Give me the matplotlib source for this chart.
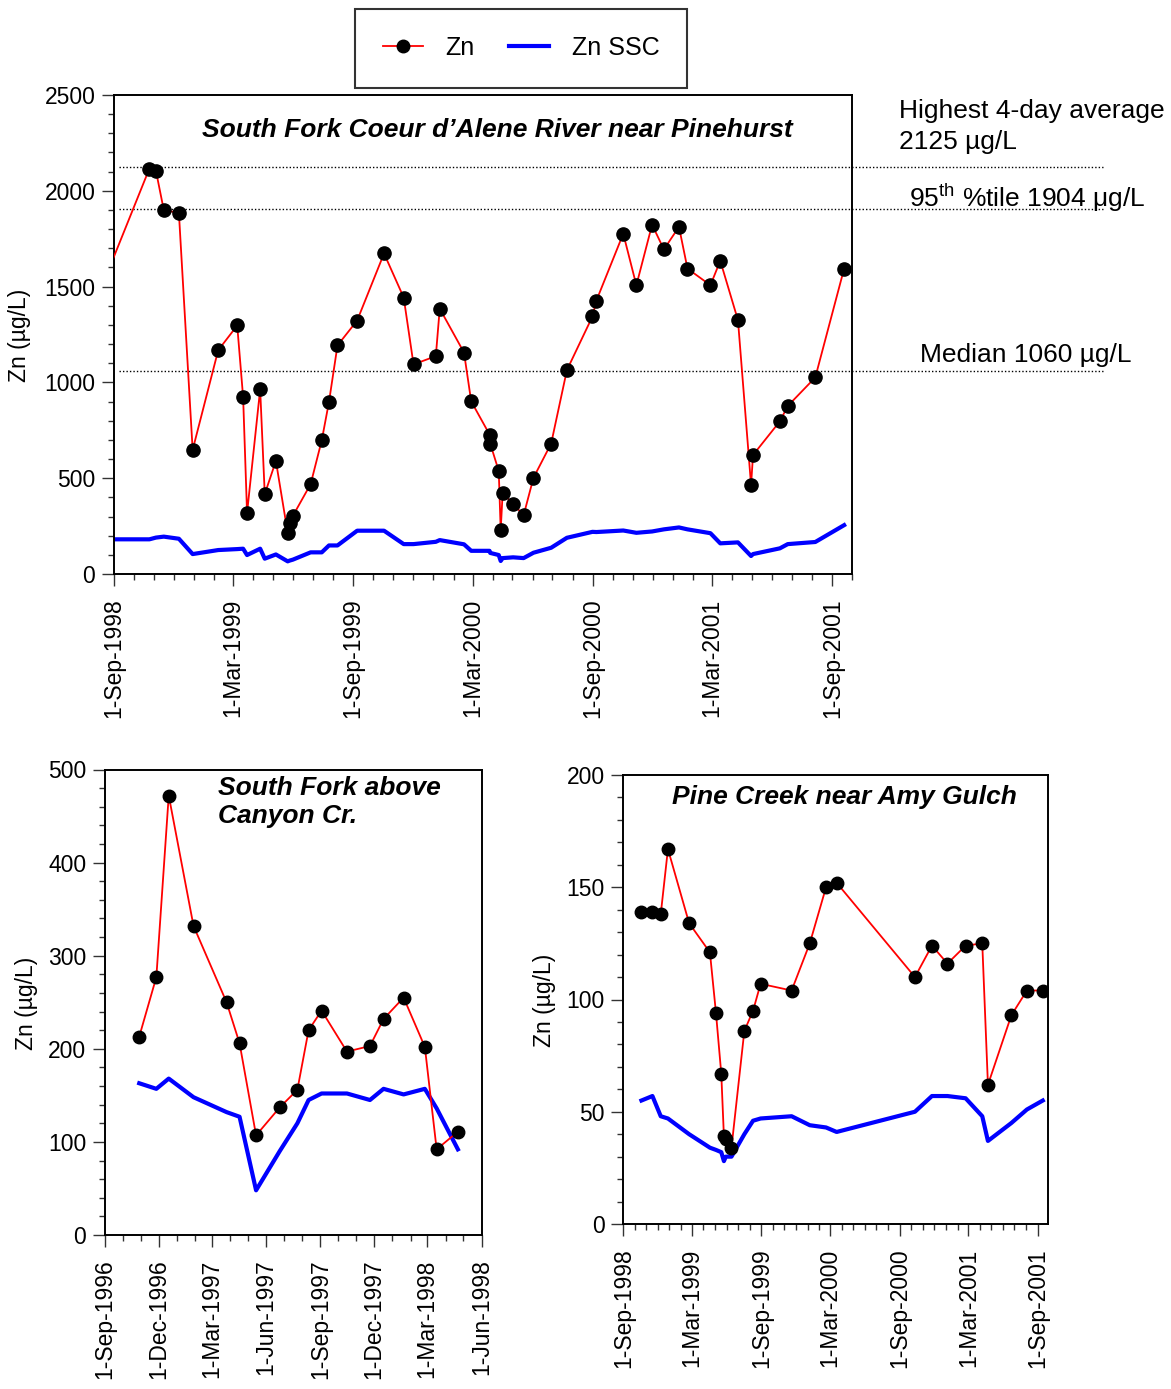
import numpy as np
import matplotlib.pyplot as plt
import matplotlib.dates as mdates
from matplotlib.ticker import MultipleLocator, FuncFormatter
from matplotlib.lines import Line2D

plt.rcParams['font.family'] = ['Liberation Sans', 'DejaVu Sans']
plt.rcParams['mathtext.fontset'] = 'custom'
plt.rcParams['mathtext.rm'] = 'Liberation Sans'

# South Fork Coeur d'Alene River near Pinehurst (first point lies left of the axis)
pine_dates = ['1998-08-10', '1998-10-25', '1998-11-04', '1998-11-16', '1998-12-09', '1998-12-30',
              '1999-02-07', '1999-03-08', '1999-03-17', '1999-03-23', '1999-04-12', '1999-04-19',
              '1999-05-06', '1999-05-24', '1999-05-27', '1999-06-01', '1999-06-28', '1999-07-15',
              '1999-07-26', '1999-08-08', '1999-09-07', '1999-10-18', '1999-11-17', '1999-12-02',
              '2000-01-05', '2000-01-11', '2000-02-17', '2000-02-28', '2000-03-27', '2000-03-28',
              '2000-04-10', '2000-04-13', '2000-04-16', '2000-05-02', '2000-05-18', '2000-06-02',
              '2000-06-29', '2000-07-23', '2000-08-31', '2000-09-06', '2000-10-17', '2000-11-06',
              '2000-11-30', '2000-12-18', '2001-01-10', '2001-01-23', '2001-02-27', '2001-03-14',
              '2001-04-10', '2001-04-30', '2001-05-03', '2001-06-13', '2001-06-25', '2001-08-06',
              '2001-09-19']
pine_zn = [1470, 2116, 2104, 1899, 1885, 648,
           1168, 1297, 923, 318, 964, 417,
           590, 215, 264, 304, 469, 698,
           898, 1193, 1323, 1673, 1443, 1094,
           1137, 1385, 1156, 901, 728, 681,
           538, 229, 424, 365, 307, 502,
           681, 1064, 1344, 1427, 1776, 1507,
           1823, 1694, 1812, 1594, 1507, 1635,
           1325, 464, 621, 797, 877, 1026,
           1594]
pine_ssc = [181, 181, 190, 195, 184, 104,
            125, 130, 132, 99, 132, 80,
            102, 66, 70, 75, 113, 113,
            149, 149, 226, 226, 156, 156,
            168, 177, 155, 121, 121, 110,
            99, 68, 83, 87, 83, 111,
            137, 189, 220, 219, 227, 215,
            222, 233, 243, 233, 213, 160,
            165, 94, 104, 134, 156, 167,
            255]

ref_values = [2125, 1904, 1060]

# South Fork above Canyon Cr.
canyon_dates = ['1996-10-29', '1996-11-27', '1996-12-18', '1997-01-29', '1997-03-26', '1997-04-17',
                '1997-05-15', '1997-06-24', '1997-07-24', '1997-08-12', '1997-09-03', '1997-10-16',
                '1997-11-24', '1997-12-17', '1998-01-20', '1998-02-25', '1998-03-17', '1998-04-22']
canyon_zn = [213, 277, 472, 332, 250, 206, 107, 137, 156, 220, 241, 197, 203, 232, 255, 202, 92, 111]
canyon_ssc = [163, 157, 168, 148, 132, 127, 48, 90, 120, 145, 152, 152, 145, 157, 151, 157, 136, 92]

# Pine Creek near Amy Gulch
amy_dates = ['1998-10-19', '1998-11-17', '1998-12-09', '1998-12-28', '1999-02-22', '1999-04-18',
             '1999-05-04', '1999-05-18', '1999-05-25', '1999-05-30', '1999-06-14', '1999-07-18',
             '1999-08-10', '1999-08-30', '1999-11-20', '2000-01-07', '2000-02-19', '2000-03-18',
             '2000-10-11', '2000-11-25', '2001-01-05', '2001-02-22', '2001-04-07', '2001-04-22',
             '2001-06-23', '2001-08-03', '2001-09-14']
amy_zn = [139, 139, 138, 167, 134, 121, 94, 67, 39, 38, 34, 86, 95, 107, 104, 125, 150, 152,
          110, 124, 116, 124, 125, 62, 93, 104, 104]
amy_ssc = [55, 57, 48, 47, 40, 34, 33, 32, 28, 30, 30, 40, 46, 47, 48, 44, 43, 41,
           50, 57, 57, 56, 48, 37, 45, 51, 55]

W, H = 1171, 1389
fig = plt.figure(figsize=(W / 100, H / 100), dpi=100)


def date_label(v, pos):
    d = mdates.num2date(v)
    return f"{d.day}-{d:%b-%Y}"


def make_axes(px_left, px_top, px_right, px_bottom):
    return fig.add_axes([px_left / W, 1 - px_bottom / H, (px_right - px_left) / W, (px_bottom - px_top) / H])


def style(ax, major_y, minor_y, months):
    ax.yaxis.set_major_locator(MultipleLocator(major_y))
    ax.yaxis.set_minor_locator(MultipleLocator(minor_y))
    ax.xaxis.set_major_locator(mdates.MonthLocator(bymonth=months))
    ax.xaxis.set_minor_locator(mdates.MonthLocator())
    ax.xaxis.set_major_formatter(FuncFormatter(date_label))
    ax.tick_params(which='major', length=8.5, width=1, labelsize=16.5, color='#333333')
    ax.tick_params(which='minor', length=4.5, width=1, color='#333333')
    ax.tick_params(axis='x', labelrotation=90, pad=9)
    ax.tick_params(axis='y', pad=5)
    for s in ax.spines.values():
        s.set_linewidth(1.4)


def draw(ax, dates, zn, ssc, ms):
    d = np.array(dates, dtype='datetime64[D]')
    ax.plot(d, ssc, color='blue', lw=3, zorder=2)
    ax.plot(d, zn, color='red', lw=1.3, marker='o', ms=ms, mfc='black', mec='black', zorder=3)


# top panel
ax1 = make_axes(114, 95, 852, 574)
draw(ax1, pine_dates, pine_zn, pine_ssc, 9.5)
ax1.set_xlim(np.datetime64('1998-09-01'), np.datetime64('2001-10-01'))
ax1.set_ylim(0, 2500)
style(ax1, 500, 100, [3, 9])
for v in ref_values:
    ax1.plot([0.007, 1.34], [v, v], transform=ax1.get_yaxis_transform(), color='black',
             lw=1, ls=(0, (1, 1.5)), clip_on=False, zorder=1)
ax1.text(0.519, 0.927, "South Fork Coeur d\u2019Alene River near Pinehurst", transform=ax1.transAxes,
         ha='center', va='center', fontsize=19, fontweight='bold', fontstyle='italic')
fig.text(20 / W, 1 - 335 / H, "Zn (\u00b5g/L)", rotation=90, ha='center', va='center', fontsize=16.5)

fig.text(899 / W, 1 - 111 / H, "Highest 4-day average", ha='left', va='center', fontsize=19)
fig.text(899 / W, 1 - 142 / H, "2125 \u00b5g/L", ha='left', va='center', fontsize=19)
fig.text(909 / W, 1 - 198 / H, r"95$^{\mathrm{th}}$ %tile 1904 $\mathrm{\mu}$g/L", ha='left', va='center', fontsize=19)
fig.text(920 / W, 1 - 355 / H, "Median 1060 \u00b5g/L", ha='left', va='center', fontsize=19)

# bottom left
ax2 = make_axes(105, 769.5, 481.5, 1235)
draw(ax2, canyon_dates, canyon_zn, canyon_ssc, 9)
ax2.set_xlim(np.datetime64('1996-09-01'), np.datetime64('1998-06-01'))
ax2.set_ylim(0, 500)
style(ax2, 100, 20, [3, 6, 9, 12])
ax2.text(0.300, 0.985, "South Fork above\nCanyon Cr.", transform=ax2.transAxes, ha='left', va='top',
         fontsize=19, fontweight='bold', fontstyle='italic', linespacing=1.2)
fig.text(27 / W, 1 - 1003 / H, "Zn (\u00b5g/L)", rotation=90, ha='center', va='center', fontsize=16.5)

# bottom right
ax3 = make_axes(623.3, 775, 1047.7, 1224)
draw(ax3, amy_dates, amy_zn, amy_ssc, 9)
ax3.set_xlim(np.datetime64('1998-09-01'), np.datetime64('2001-09-27'))
ax3.set_ylim(0, 200)
style(ax3, 50, 10, [3, 9])
ax3.text(0.522, 0.951, "Pine Creek near Amy Gulch", transform=ax3.transAxes, ha='center', va='center',
         fontsize=19, fontweight='bold', fontstyle='italic')
fig.text(545 / W, 1 - 1000 / H, "Zn (\u00b5g/L)", rotation=90, ha='center', va='center', fontsize=16.5)

# legend
handles = [Line2D([], [], color='red', lw=1.3, marker='o', ms=9, mfc='black', mec='black'),
           Line2D([], [], color='blue', lw=3)]
leg = fig.legend(handles, ['Zn', 'Zn SSC'], loc='center', bbox_to_anchor=(521 / W, 1 - 48 / H),
                 ncol=2, frameon=True, fancybox=False, edgecolor='black', fontsize=18,
                 handlelength=1.6, handletextpad=0.9, columnspacing=1.4, borderpad=1.1)
leg.get_frame().set_linewidth(1.5)

fig.savefig('out.png', dpi=100)
